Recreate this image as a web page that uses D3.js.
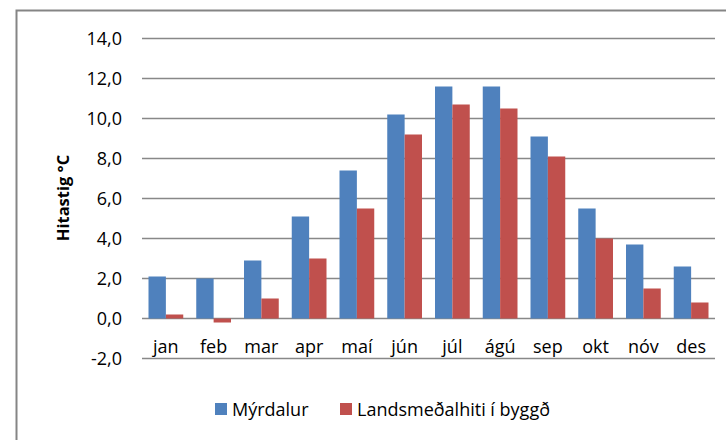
<!DOCTYPE html>
<html>
<head>
<meta charset="utf-8">
<script src="https://cdn.jsdelivr.net/npm/d3@7"></script>
<style>
  body { margin: 0; background: #fff; }
  text { font-family: "Open Sans", sans-serif; fill: #000; }
</style>
</head>
<body>
<svg id="chart" width="726" height="440"></svg>
<script>
// monthly mean temperature
const months = ['jan', 'feb', 'mar', 'apr', 'maí', 'jún', 'júl', 'ágú', 'sep', 'okt', 'nóv', 'des'];
const myrdalur = [2.1, 2.0, 2.9, 5.1, 7.4, 10.2, 11.6, 11.6, 9.1, 5.5, 3.7, 2.6];
const landsmedal = [0.2, -0.2, 1.0, 3.0, 5.5, 9.2, 10.7, 10.5, 8.1, 4.0, 1.5, 0.8];
const seriesNames = ['Mýrdalur', 'Landsmeðalhiti í byggð'];
const yTicks = [-2, 0, 2, 4, 6, 8, 10, 12, 14];

const colors = ['#4f81bd', '#c0504d'];
const svg = d3.select('#chart');

// outer chart border (runs off the right and bottom edge)
svg.append('path')
    .attr('d', 'M16.5,440 V10.5 H726')
    .attr('fill', 'none')
    .attr('stroke', '#858585')
    .attr('stroke-width', 2);

const left = 142, right = 715;
const y = d3.scaleLinear().domain([-2, 14]).range([358.5, 38.5]);
const x0 = d3.scaleBand().domain(months).range([left, right]).paddingInner(0).paddingOuter(0);

// gridlines
svg.append('g').selectAll('line')
    .data(yTicks)
    .join('line')
    .attr('x1', left).attr('x2', right)
    .attr('y1', d => y(d)).attr('y2', d => y(d))
    .attr('stroke', '#888')
    .attr('stroke-width', 1.5);

const fmt = d => d.toFixed(1).replace('.', ',');
svg.append('g').selectAll('text')
    .data(yTicks)
    .join('text')
    .attr('x', 122)
    .attr('y', d => y(d))
    .attr('dy', '0.36em')
    .attr('text-anchor', 'end')
    .attr('font-size', 18)
    .text(fmt);

// bars
const gap = 13;
const barW = (x0.bandwidth() - gap) / 2;
const series = [myrdalur, landsmedal];
series.forEach((vals, s) => {
    svg.append('g').selectAll('rect')
        .data(vals)
        .join('rect')
        .attr('x', (d, i) => x0(months[i]) + gap / 2 + s * barW)
        .attr('y', d => y(Math.max(0, d)))
        .attr('width', barW)
        .attr('height', d => Math.abs(y(d) - y(0)))
        .attr('fill', colors[s]);
});

// month labels
svg.append('g').selectAll('text')
    .data(months)
    .join('text')
    .attr('x', d => x0(d) + x0.bandwidth() / 2)
    .attr('y', 353)
    .attr('text-anchor', 'middle')
    .attr('font-size', 18)
    .text(d => d);

// y axis title
svg.append('text')
    .attr('transform', 'translate(69,198) rotate(-90)')
    .attr('text-anchor', 'middle')
    .attr('font-size', 16.5)
    .attr('font-weight', 'bold')
    .text('Hitastig °C');

// legend
const legendX = [215, 340];
seriesNames.forEach((name, s) => {
    const g = svg.append('g').attr('transform', `translate(${legendX[s]},403)`);
    g.append('rect').attr('width', 12).attr('height', 12).attr('fill', colors[s]);
    g.append('text')
        .attr('x', 17)
        .attr('y', 12.5)
        .attr('font-size', 18)
        .text(name);
});
</script>
</body>
</html>
